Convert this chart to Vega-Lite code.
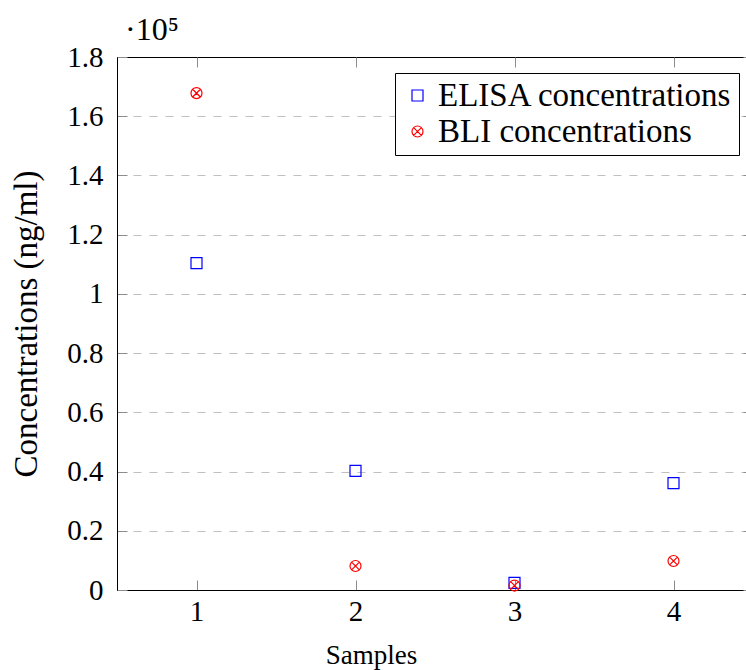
{
  "$schema": "https://vega.github.io/schema/vega-lite/v6.json",
  "width": 636,
  "height": 533,
  "autosize": {"type": "none"},
  "padding": {"left": 117, "top": 57, "right": 0, "bottom": 80},
  "background": "white",
  "title": {"text": "·10⁵", "anchor": "start", "frame": "group", "dx": 8, "offset": -4, "fontSize": 32, "font": "Liberation Serif", "fontWeight": "normal", "color": "black"},
  "config": {
    "font": "Liberation Serif",
    "view": {"stroke": "black", "strokeWidth": 1},
    "axis": {"labelFont": "Liberation Serif", "titleFont": "Liberation Serif", "labelFontSize": 29, "titleFontSize": 29, "titleFontWeight": "normal", "labelColor": "black", "titleColor": "black", "domainColor": "black", "domainWidth": 1, "tickColor": "#8c8c8c", "tickSize": -10, "tickWidth": 1}
  },
  "data": {"values": [
    {"sample": 1, "value": 1.104, "series": "ELISA concentrations"},
    {"sample": 2, "value": 0.402, "series": "ELISA concentrations"},
    {"sample": 3, "value": 0.024, "series": "ELISA concentrations"},
    {"sample": 4, "value": 0.361, "series": "ELISA concentrations"},
    {"sample": 1, "value": 1.678, "series": "BLI concentrations"},
    {"sample": 2, "value": 0.081, "series": "BLI concentrations"},
    {"sample": 3, "value": 0.015, "series": "BLI concentrations"},
    {"sample": 4, "value": 0.098, "series": "BLI concentrations"}
  ]},
  "layer": [
    {
      "mark": {"type": "point", "filled": false, "size": 121, "strokeWidth": 1.2, "opacity": 1},
      "encoding": {
        "x": {"field": "sample", "type": "quantitative", "scale": {"domain": [0.5, 4.5], "nice": false, "zero": false},
              "axis": {"title": "Samples", "titleFontSize": 27, "titleX": 254, "titleAlign": "center", "values": [1, 2, 3, 4], "format": "d", "grid": false, "labelPadding": 17, "titlePadding": 16}},
        "y": {"field": "value", "type": "quantitative", "scale": {"domain": [0, 1.8], "nice": false},
              "axis": {"title": "Concentrations (ng/ml)", "titleFontSize": 33, "values": [0, 0.2, 0.4, 0.6, 0.8, 1, 1.2, 1.4, 1.6, 1.8], "format": "~g", "grid": true, "gridColor": "#c0c0c0", "gridDash": [8, 8], "gridWidth": 1.2,
                       "gridOpacity": {"condition": {"test": "datum.value <= 0 || datum.value >= 1.8", "value": 0}, "value": 1},
                       "labelPadding": 24, "titlePadding": 23}},
        "color": {"field": "series", "type": "nominal", "scale": {"domain": ["ELISA concentrations", "BLI concentrations"], "range": ["#0000ff", "#ff0000"]},
                  "legend": {"title": null, "orient": "none", "legendX": 278, "legendY": 16, "labelFontSize": 33, "labelFont": "Liberation Serif", "labelColor": "black", "labelLimit": 0,
                             "labelExpr": "datum.label == 'BLI concentrations' ? '\u2002\u200a' + datum.label : datum.label",
                             "strokeColor": "black", "fillColor": "white", "padding": 6, "symbolStrokeWidth": 1.2, "symbolSize": 121, "labelOffset": 4, "rowPadding": 2, "cornerRadius": 0}},
        "shape": {"field": "series", "type": "nominal", "scale": {"domain": ["ELISA concentrations", "BLI concentrations"], "range": ["square", "M-1,0A1,1,0,1,0,1,0A1,1,0,1,0,-1,0M-0.707,-0.707L0.707,0.707M-0.707,0.707L0.707,-0.707"]}, "legend": null}
      }
    },
    {
      "mark": {"type": "point", "opacity": 0},
      "encoding": {
        "x": {"field": "sample", "type": "quantitative", "axis": {"orient": "top", "values": [1, 2, 3, 4], "labels": false, "title": null, "grid": false, "domain": false}},
        "y": {"field": "value", "type": "quantitative", "axis": {"orient": "right", "values": [0, 0.2, 0.4, 0.6, 0.8, 1, 1.2, 1.4, 1.6, 1.8], "labels": false, "title": null, "grid": false, "domain": false}}
      }
    }
  ],
  "resolve": {"axis": {"x": "independent", "y": "independent"}}
}
